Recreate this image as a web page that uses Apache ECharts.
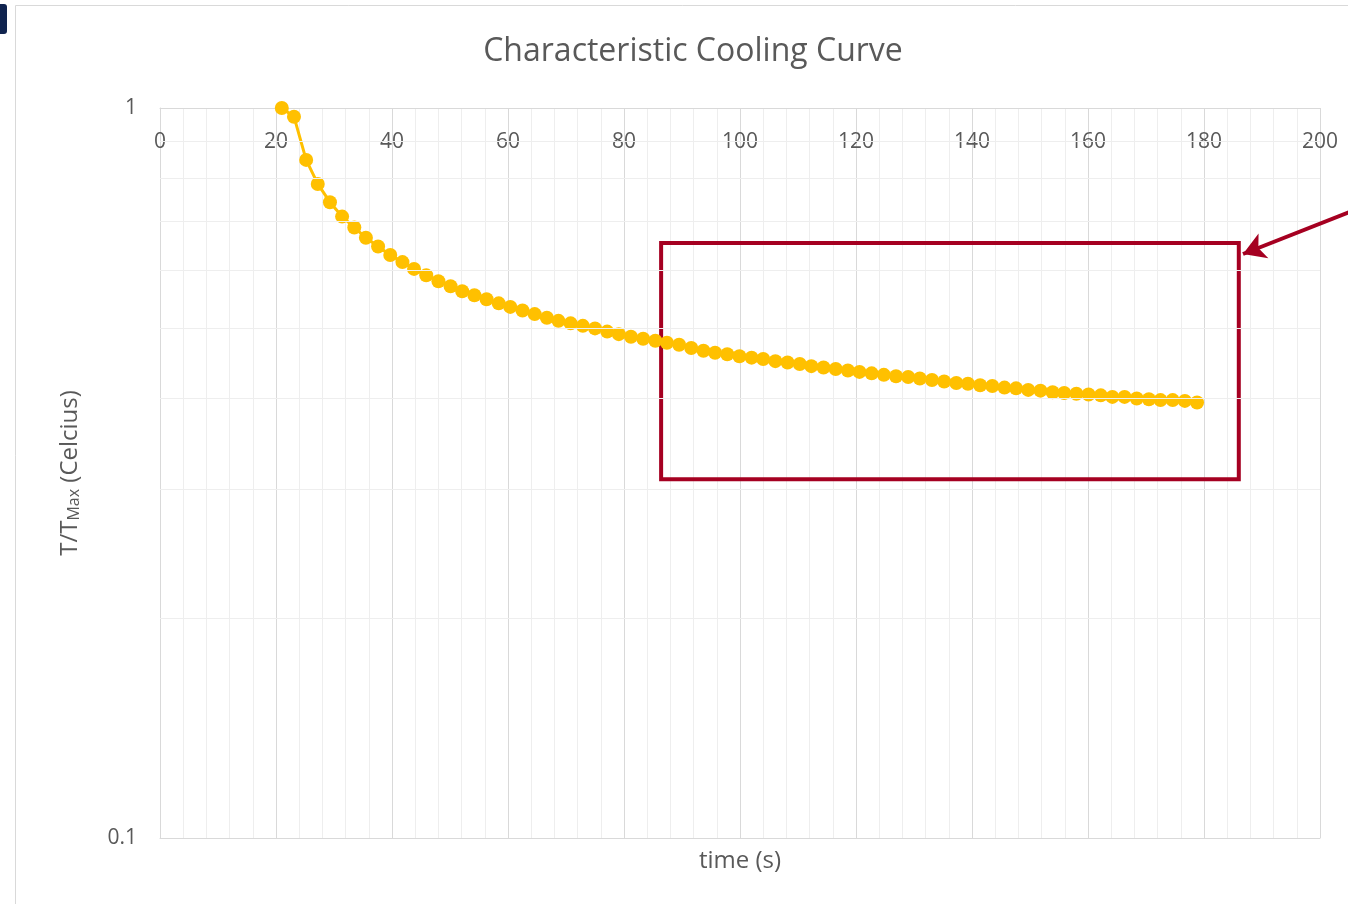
<!DOCTYPE html>
<html>
<head>
<meta charset="utf-8">
<script src="https://cdn.jsdelivr.net/npm/echarts@6/dist/echarts.min.js"></script>
<style>
html,body{margin:0;padding:0;background:#fff;}
#chart{width:1348px;height:904px;}
</style>
</head>
<body>
<div id="chart"></div>
<script>
// ---- data ----
const titleText = 'Characteristic Cooling Curve';
const xName = 'time (s)';
const xTicks = [0, 20, 40, 60, 80, 100, 120, 140, 160, 180, 200];
const yMinorLines = [0.2, 0.3, 0.4, 0.5, 0.6, 0.7, 0.8, 0.9];
const timeS = [
  21.0, 23.1, 25.2, 27.2, 29.3, 31.4, 33.5, 35.5, 37.6, 39.7,
  41.8, 43.8, 45.9, 48.0, 50.1, 52.1, 54.2, 56.3, 58.4, 60.4,
  62.5, 64.6, 66.7, 68.7, 70.8, 72.9, 75.0, 77.1, 79.1, 81.2,
  83.3, 85.4, 87.4, 89.5, 91.6, 93.7, 95.7, 97.8, 99.9, 102.0,
  104.0, 106.1, 108.2, 110.3, 112.3, 114.4, 116.5, 118.6, 120.6, 122.7,
  124.8, 126.9, 129.0, 131.0, 133.1, 135.2, 137.3, 139.3, 141.4, 143.5,
  145.6, 147.6, 149.7, 151.8, 153.9, 155.9, 158.0, 160.1, 162.2, 164.2,
  166.3, 168.4, 170.5, 172.5, 174.6, 176.7, 178.8
];
const ratio = [
  1.000, 0.973, 0.849, 0.787, 0.743, 0.710, 0.686, 0.664, 0.646, 0.629,
  0.615, 0.602, 0.590, 0.579, 0.570, 0.561, 0.554, 0.547, 0.540, 0.534,
  0.528, 0.522, 0.516, 0.511, 0.507, 0.503, 0.499, 0.494, 0.490, 0.486,
  0.483, 0.480, 0.477, 0.474, 0.469, 0.465, 0.462, 0.460, 0.457, 0.455,
  0.453, 0.450, 0.448, 0.446, 0.443, 0.441, 0.439, 0.437, 0.435, 0.433,
  0.431, 0.429, 0.428, 0.426, 0.424, 0.422, 0.420, 0.419, 0.417, 0.416,
  0.414, 0.413, 0.411, 0.410, 0.408, 0.407, 0.406, 0.405, 0.404, 0.402,
  0.402, 0.400, 0.399, 0.398, 0.398, 0.397, 0.395
];
// annotation box (data coordinates)
const boxX = [86.4, 186.0];
const boxY = [0.653, 0.310];

const FONT = '"Open Sans", sans-serif';
const TXT = '#595959';
const MAJOR = '#d9d9d9';
const MINOR = '#eeeeee';
const RED = '#a50021';

const chart = echarts.init(document.getElementById('chart'));
const option = {
  animation: false,
  backgroundColor: '#fff',
  textStyle: { fontFamily: FONT },
  title: {
    text: titleText,
    left: 688, top: 31,
    textAlign: 'center',
    textStyle: { fontFamily: FONT, fontSize: 32, fontWeight: 'normal', color: TXT }
  },
  graphic: [
    { type: 'rect', shape: { x: 15.5, y: 5.5, width: 1400, height: 1000 },
      style: { fill: 'none', stroke: '#d9d9d9', lineWidth: 1 }, silent: true, z: -10 },
    { type: 'rect', shape: { x: -4, y: 4, width: 11, height: 30, r: 3 },
      style: { fill: '#10244f' }, silent: true }
  ],
  grid: { left: 160, top: 108, width: 1160, height: 730, containLabel: false },
  xAxis: [
    {
      type: 'value', position: 'top', min: 0, max: 200, interval: 20,
      axisLine: { show: true, lineStyle: { color: MAJOR, width: 1 } },
      axisTick: { show: false },
      axisLabel: {
        inside: true, margin: 24, fontSize: 21, color: TXT, fontFamily: FONT,
        customValues: xTicks
      },
      splitLine: { show: true, lineStyle: { color: MAJOR, width: 1 } },
      minorTick: { show: false, splitNumber: 5 },
      minorSplitLine: { show: true, lineStyle: { color: MINOR, width: 1 } }
    },
    {
      type: 'value', position: 'bottom', min: 0, max: 200, interval: 20,
      name: xName, nameLocation: 'middle', nameGap: 11,
      nameTextStyle: { fontSize: 24, color: TXT, fontFamily: FONT },
      axisLine: { show: true, lineStyle: { color: MAJOR, width: 1 } },
      axisTick: { show: false },
      axisLabel: { show: false },
      splitLine: { show: false }
    }
  ],
  yAxis: {
    type: 'log', logBase: 10, min: 0.1, max: 1,
    name: '{a|T/T}{s|Max}{a| (Celcius)}',
    nameLocation: 'middle', nameRotate: 90, nameGap: 78,
    nameTextStyle: {
      color: TXT,
      rich: {
        a: { fontSize: 24, color: TXT, fontFamily: FONT, verticalAlign: 'bottom', lineHeight: 30 },
        s: { fontSize: 16, color: TXT, fontFamily: FONT, verticalAlign: 'bottom', lineHeight: 26 }
      }
    },
    axisLine: { show: true, lineStyle: { color: MAJOR, width: 1 } },
    axisTick: { show: false },
    axisLabel: { margin: 23, fontSize: 21, color: TXT, fontFamily: FONT },
    splitLine: { show: true, lineStyle: { color: MAJOR, width: 1 } },
    minorSplitLine: { show: false }
  },
  series: [
    {
      type: 'line', name: 'minorGrid', data: [], z: 1, silent: true,
      markLine: {
        silent: true, symbol: ['none', 'none'], animation: false,
        label: { show: false },
        lineStyle: { color: MINOR, width: 1, type: 'solid' },
        emphasis: { disabled: true },
        data: yMinorLines.map(v => ({ yAxis: v }))
      }
    },
    {
      type: 'line', name: 'T/Tmax', z: 3,
      data: timeS.map((t, i) => [t, ratio[i]]),
      symbol: 'circle', symbolSize: 14, showSymbol: true,
      lineStyle: { color: '#ffc000', width: 3 },
      itemStyle: { color: '#ffc000', borderWidth: 0 }
    },
    {
      type: 'line', name: 'annot', data: [], z: 5, silent: true, clip: false,
      markArea: {
        silent: true,
        itemStyle: { color: 'rgba(0,0,0,0)', borderColor: RED, borderWidth: 4 },
        label: { show: false },
        data: [[{ coord: [boxX[0], boxY[0]] }, { coord: [boxX[1], boxY[1]] }]]
      },
      markLine: {
        silent: true, symbol: ['none', 'arrow'], symbolSize: [20, 22],
        label: { show: false },
        lineStyle: { color: RED, width: 4, type: 'solid' },
        data: [[{ x: 1352, y: 211 }, { x: 1243, y: 254 }]]
      }
    }
  ]
};
chart.setOption(option);
</script>
</body>
</html>
